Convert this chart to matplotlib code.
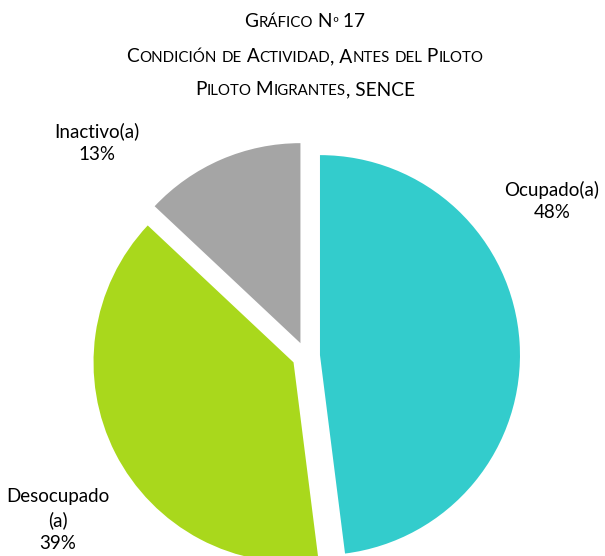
import matplotlib
matplotlib.use("Agg")
import matplotlib.pyplot as plt

# Data
labels = ["Ocupado(a)", "Desocupado\n(a)", "Inactivo(a)"]
shares = [48, 39, 13]
colors = ["#33CCCC", "#A9D81C", "#A5A5A5"]

title_lines = ["Gráfico Nº 17",
               "Condición de Actividad, Antes del Piloto",
               "Piloto Migrantes, SENCE"]

FONT = "Lato"
W, H = 605, 556

fig = plt.figure(figsize=(W / 100, H / 100), dpi=100)
ax = fig.add_axes([0, 0, 1, 1])

# Pie (pixel coords, y up)
ax.pie(shares, colors=colors, startangle=90, counterclock=False,
       center=(306, H - 356), radius=200, explode=[14, 14, 14],
       wedgeprops=dict(linewidth=0), frame=True)
ax.set_xlim(0, W)
ax.set_ylim(0, H)
ax.set_aspect("auto")
ax.axis("off")

# Slice labels
label_pos = [(552, 201), (58, 520), (97, 143)]
for (x, y), lab, v in zip(label_pos, labels, shares):
    ax.text(x, H - y, f"{lab}\n{v}%", ha="center", va="center",
            fontsize=13.5, family=FONT, linespacing=1.42)

# Title in small caps
renderer = fig.canvas.get_renderer()
BIG, SMALL = 13.8, 10.8


def runs_of(s):
    out = []
    for ch in s:
        small = ch.islower()
        c = ch.upper() if small else ch
        if out and out[-1][1] == small:
            out[-1][0] += c
        else:
            out.append([c, small])
    return out


def smallcaps_line(s, xc, y):
    pieces = []
    total = 0
    for txt, small in runs_of(s):
        t = fig.text(0, 0, txt.replace(" ", "\u00a0"), fontsize=SMALL if small else BIG,
                     family=FONT, va="baseline", ha="left")
        w = t.get_window_extent(renderer).width
        pieces.append((t, w))
        total += w
    x = xc - total / 2
    for t, w in pieces:
        t.set_position((x / W, 1 - y / H))
        x += w


for line, yb in zip(title_lines, [27, 62, 95]):
    smallcaps_line(line, 305, yb)

fig.savefig("out.png", dpi=100)
